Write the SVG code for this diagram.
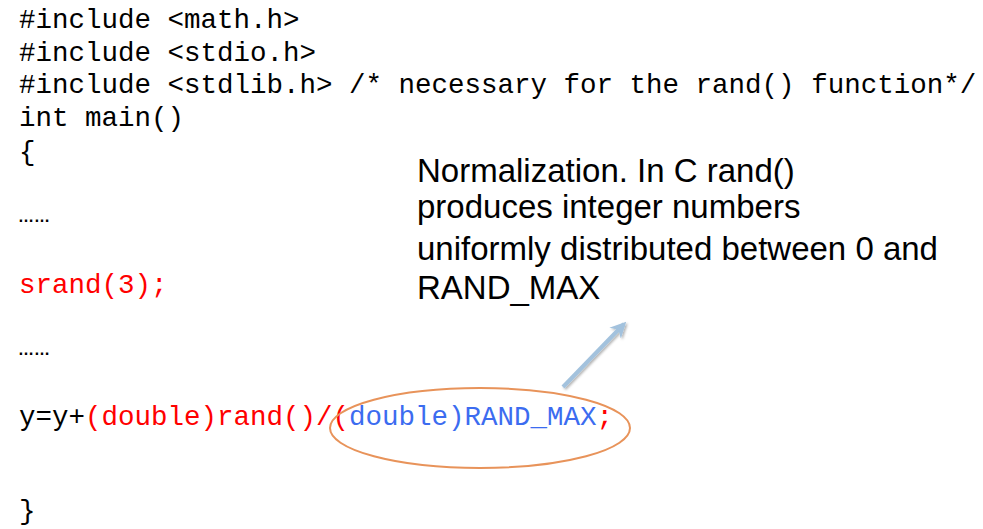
<svg xmlns="http://www.w3.org/2000/svg" width="983" height="529" viewBox="0 0 983 529">
  <style>
    .code { font-family: "Liberation Mono", "DejaVu Sans Mono", monospace; font-size: 27.5px; fill: #000; }
    .dots { font-family: "Liberation Sans", sans-serif; font-size: 16px; font-weight: bold; fill: #000; }
    .red { fill: #ff0000; }
    .blue { fill: #3c6cf0; }
    .note { font-family: "Liberation Sans", Arial, sans-serif; font-size: 33px; fill: #000; }
  </style>
  <defs>
    <marker id="arrowHead" viewBox="0 0 10 10" refX="8" refY="5" markerWidth="4" markerHeight="4" orient="auto" markerUnits="strokeWidth">
      <path d="M0,0 L10,5 L0,10 L3,5 Z" fill="#a3c2dd"/>
    </marker>
    <filter id="softShadow" x="-20%" y="-20%" width="140%" height="140%">
      <feDropShadow dx="1.5" dy="1.5" stdDeviation="1.2" flood-color="#000" flood-opacity="0.3"/>
    </filter>
  </defs>
  <rect width="983" height="529" fill="#fff"/>

  <g id="code">
    <text class="code" x="19" y="28">#include &lt;math.h&gt;</text>
    <text class="code" x="19" y="61">#include &lt;stdio.h&gt;</text>
    <text class="code" x="19" y="93">#include &lt;stdlib.h&gt; /* necessary for the rand() function*/</text>
    <text class="code" x="19" y="126">int main()</text>
    <text class="code" x="19" y="160">{</text>
    <text class="dots" x="18" y="222">……</text>
    <text class="code red" x="19" y="293">srand(3);</text>
    <text class="dots" x="18" y="355">……</text>
    <text class="code" x="19" y="425">y=y+<tspan class="red">(double)rand()/(</tspan><tspan class="blue">double)RAND_MAX</tspan><tspan class="red">;</tspan></text>
    <text class="code" x="19" y="519">}</text>
  </g>

  <g id="note">
    <text class="note" x="417" y="182">Normalization. In C rand()</text>
    <text class="note" x="417" y="218">produces integer numbers</text>
    <text class="note" x="417" y="260">uniformly distributed between 0 and</text>
    <text class="note" x="417" y="299">RAND_MAX</text>
  </g>

  <g id="highlight">
    <ellipse cx="480" cy="428" rx="150" ry="40" fill="none" stroke="#e8935a" stroke-width="2"/>
  </g>

  <g id="connectors">
    <line x1="563" y1="387" x2="624" y2="324" stroke="#a3c2dd" stroke-width="4" marker-end="url(#arrowHead)" filter="url(#softShadow)"/>
  </g>
</svg>
